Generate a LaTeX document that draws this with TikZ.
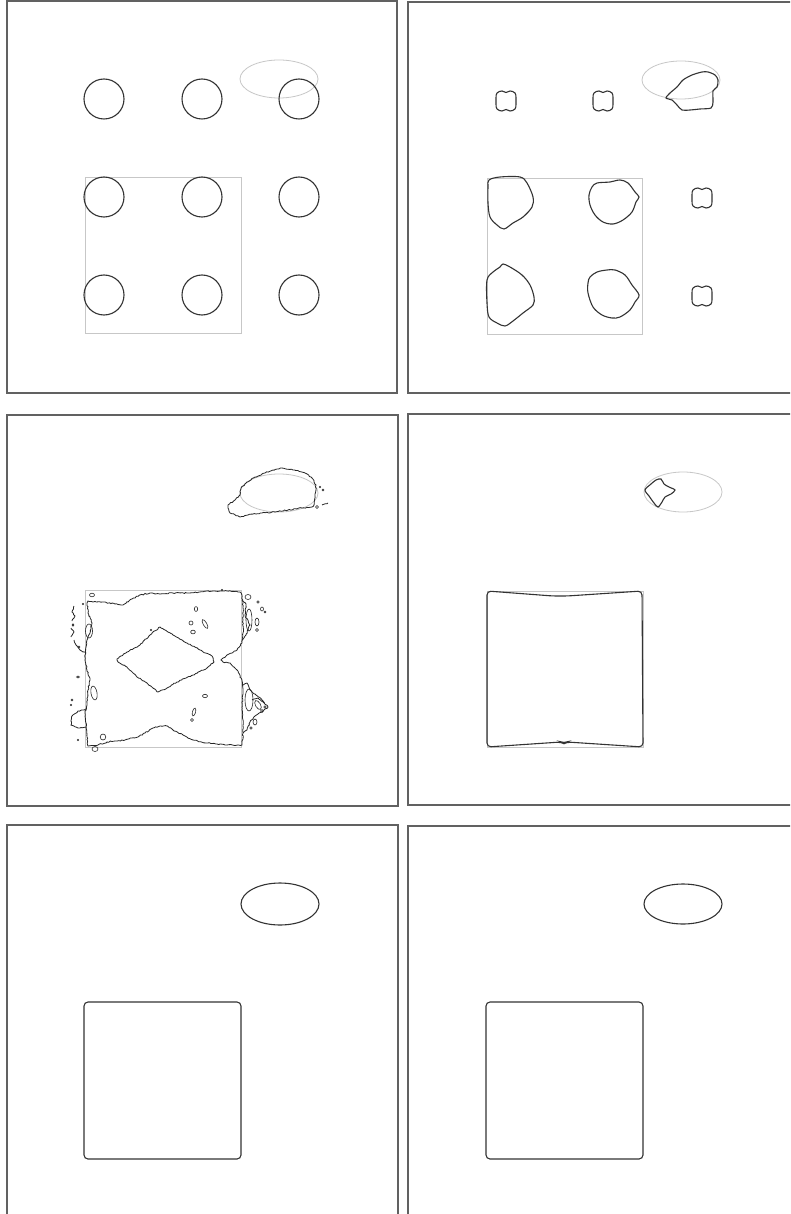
\documentclass[tikz,border=0pt]{standalone}
\usetikzlibrary{decorations.pathmorphing}
\begin{document}
\pgfmathsetseed{7}
\begin{tikzpicture}[x=1pt, y=-1pt,
  panel/.style={draw=black!62, line width=1.1pt},
  prior/.style={draw=black!22, line width=0.8pt},
  front/.style={draw=black!80, line width=1.1pt},
  rough/.style={draw=black!85, line width=0.8pt, decorate, decoration={random steps, segment length=1.6pt, amplitude=0.55pt}},
  speck/.style={draw=black!85, line width=0.6pt}]
\clip (0,0) rectangle (790,1214);
\fill[white] (0,0) rectangle (790,1214);

% frames
\draw[panel] (7,1) rectangle (397,393);
\draw[panel] (408,2) rectangle (800,393);
\draw[panel] (7,415) rectangle (398,806);
\draw[panel] (408,414) rectangle (800,805);
\draw[panel] (7,825) rectangle (398,1230);
\draw[panel] (408,826) rectangle (800,1230);

% initial state
\draw[prior] (279,79) ellipse (39 and 19);
\draw[prior] (85,177) rectangle (241,333);
\foreach \x in {104,202,299}
  \foreach \y in {99,197,295}
    \draw[front] (\x,\y) circle (20);

% first iterations
\draw[prior] (681,80) ellipse (39 and 19);
\draw[prior] (487,178) rectangle (642,334);
\foreach \cx/\cy in {506/101, 603/101, 702/198, 702/296}
  \draw[front, shift={(\cx,\cy)}] plot[smooth cycle, tension=0.7] coordinates
    {(-9,-8) (-4,-10) (0,-8.5) (4,-10) (9,-8) (10,-3) (10,3) (9,8) (4,10) (0,8.5) (-4,10) (-9,8) (-10,3) (-10,-3)};
\draw[front] plot[smooth cycle, tension=0.55] coordinates
  {(489,180) (500,177) (520,177) (527,183) (533,197) (532,207) (523,217) (513,223) (504,229) (497,225) (490,217) (488,203) (488,187)};
\draw[front] plot[smooth cycle, tension=0.55] coordinates
  {(592,187) (597,183) (610,182) (620,180) (628,183) (635,192) (639,197) (636,202) (632,212) (623,220) (613,224) (603,222) (595,215) (590,205) (589,195)};
\draw[front] plot[smooth cycle, tension=0.55] coordinates
  {(503,264) (510,267) (522,275) (530,285) (534,297) (533,305) (523,313) (513,321) (505,326) (497,323) (489,317) (487,303) (487,280) (493,272) (500,267)};
\draw[front] plot[smooth cycle, tension=0.55] coordinates
  {(590,277) (597,272) (607,270) (615,270) (625,275) (632,285) (639,295) (635,302) (630,310) (620,317) (612,318) (602,315) (593,307) (588,293) (588,283)};
\draw[front] plot[smooth cycle, tension=0.5] coordinates
  {(666,98) (670,93) (677,87) (683,80) (692,75) (702,72) (708,72) (715,75) (718,80) (717,87) (713,91) (713,102) (711,108) (700,109) (690,110) (682,110) (677,105) (672,100)};

% noisy stage
\draw[prior] (279,493) ellipse (39 and 19);
\draw[prior] (85,590) rectangle (241,747);
\draw[rough] (228,508) -- (230,513) -- (240,517) -- (248,515) -- (262,513) -- (275,512) -- (288,510) -- (302,508)
  -- (312,507) -- (314,505) -- (315,495) -- (316,485) -- (312,478) -- (305,473) -- (295,470) -- (282,468) -- (273,470)
  -- (265,473) -- (255,477) -- (247,482) -- (241,488) -- (240,495) -- (235,500) -- (228,505) -- cycle;
\draw[rough] (87,603) -- (88,601) -- (93,602) -- (103,602) -- (115,604) -- (123,605) -- (132,599) -- (140,595) -- (150,593)
  -- (160,594) -- (173,593) -- (187,593) -- (200,592) -- (213,591) -- (227,591) -- (240,592) -- (242,595) -- (243,607)
  -- (243,620) -- (243,633) -- (242,643) -- (237,650) -- (227,655) -- (221,660) -- (223,662) -- (230,663) -- (237,670)
  -- (242,680) -- (243,693) -- (242,707) -- (243,720) -- (243,733) -- (242,745) -- (227,745) -- (217,744) -- (207,743)
  -- (193,740) -- (183,735) -- (173,730) -- (167,726) -- (160,726) -- (153,728) -- (145,733) -- (138,737) -- (132,738)
  -- (125,740) -- (115,741) -- (107,742) -- (98,745) -- (88,746) -- (87,737) -- (86,723) -- (85,713) -- (87,703)
  -- (88,690) -- (90,680) -- (87,670) -- (85,660) -- (86,647) -- (87,640) -- (90,633) -- (92,623) -- (88,613) -- cycle;
\draw[rough] (117,659) -- (127,652) -- (140,645) -- (150,635) -- (160,627) -- (173,635) -- (187,643) -- (200,650)
  -- (212,656) -- (214,662) -- (207,668) -- (193,675) -- (177,682) -- (167,688) -- (158,692) -- (147,683) -- (137,677)
  -- (127,667) -- (118,662) -- cycle;
\draw[rough] (86,709) -- (78,711) -- (72,716) -- (71,725) -- (78,728) -- (86,727);
\draw[rough] (86,653) -- (80,650) -- (76,645) -- (74,640);
\draw[rough] (74,606) -- (72,612) -- (75,616) -- (72,621);
\draw[rough] (71,628) -- (74,632) -- (71,637);
\draw[rough] (242,600) -- (246,604) -- (245,615) -- (250,625) -- (246,635) -- (242,640);
\draw[rough] (242,685) -- (247,683) -- (250,690) -- (256,695) -- (262,700) -- (268,707) -- (262,712) -- (255,716)
  -- (250,722) -- (247,730) -- (243,733);
\draw[rough] (252,700) -- (258,698) -- (264,703);
\draw[rough] (322,505) -- (328,503);
\foreach \x/\y/\a/\b/\r in {92/595/2.5/1.8/0, 196/609/1.7/2.4/0, 191/623/2/2/0, 193/632/2.3/1.9/0, 205/624/1.8/5/30,
    205/696/2.5/1.7/0, 194/712/1.6/4/-15, 192/720/1.5/1.5/0, 103/737/2.8/3/0, 151/630/0.8/0.8/0,
    89/631/3.5/7/0, 94/693/3/7/10, 73/625/1/1.2/0,
    79/647/1/1/0, 83/604/0.8/0.8/0, 78/677/1.5/1/0, 72/700/1/1/0,
    71/705/0.8/0.8/0, 78/740/0.8/0.8/0, 95/749/3/2.5/0, 248/597/3/2.5/0, 258/602/1.2/1.2/0,
    262/609/1.5/2/0, 265/612/1/1/0, 249/620/3/11/0, 257/622/2/4/0, 257/630/1.5/1.5/0, 249/700/4/11/0,
    258/705/2.5/5/30, 262/711/1.5/1.5/0, 265/707/1.2/1.2/0, 255/722/2/3/0, 251/728/1.3/1.3/0,
    222/590/0.8/0.8/0, 320/487/0.8/0.8/0, 323/490/1/1/0, 317/507/1.5/1.5/0}
  \draw[speck, rotate around={\r:(\x,\y)}] (\x,\y) ellipse [x radius=\a, y radius=\b];

% smoothing stage
\draw[prior] (683,492) ellipse (39 and 20);
\draw[prior] (487,591) rectangle (643,747);
\draw[front] plot[smooth cycle, tension=0.5] coordinates
  {(645,490) (651,484) (656,480) (661,479) (664,484) (669,487) (675,490) (671,494) (665,497) (662,502) (658,507) (654,503) (649,496)};
\draw[front, rounded corners=4pt] (487,591) -- (553,596) -- (567,596) -- (642,591) -- (643,747) -- (567,742)
  -- (564,743.5) -- (561,742) -- (487,747) -- cycle;

% converged
\draw[front] (280,904) ellipse (39 and 21);
\draw[front, rounded corners=4pt] (84,1002) rectangle (241,1159);
\draw[front] (683,904) ellipse (39 and 20);
\draw[front, rounded corners=4pt] (486,1002) rectangle (643,1159);
\end{tikzpicture}
\end{document}
